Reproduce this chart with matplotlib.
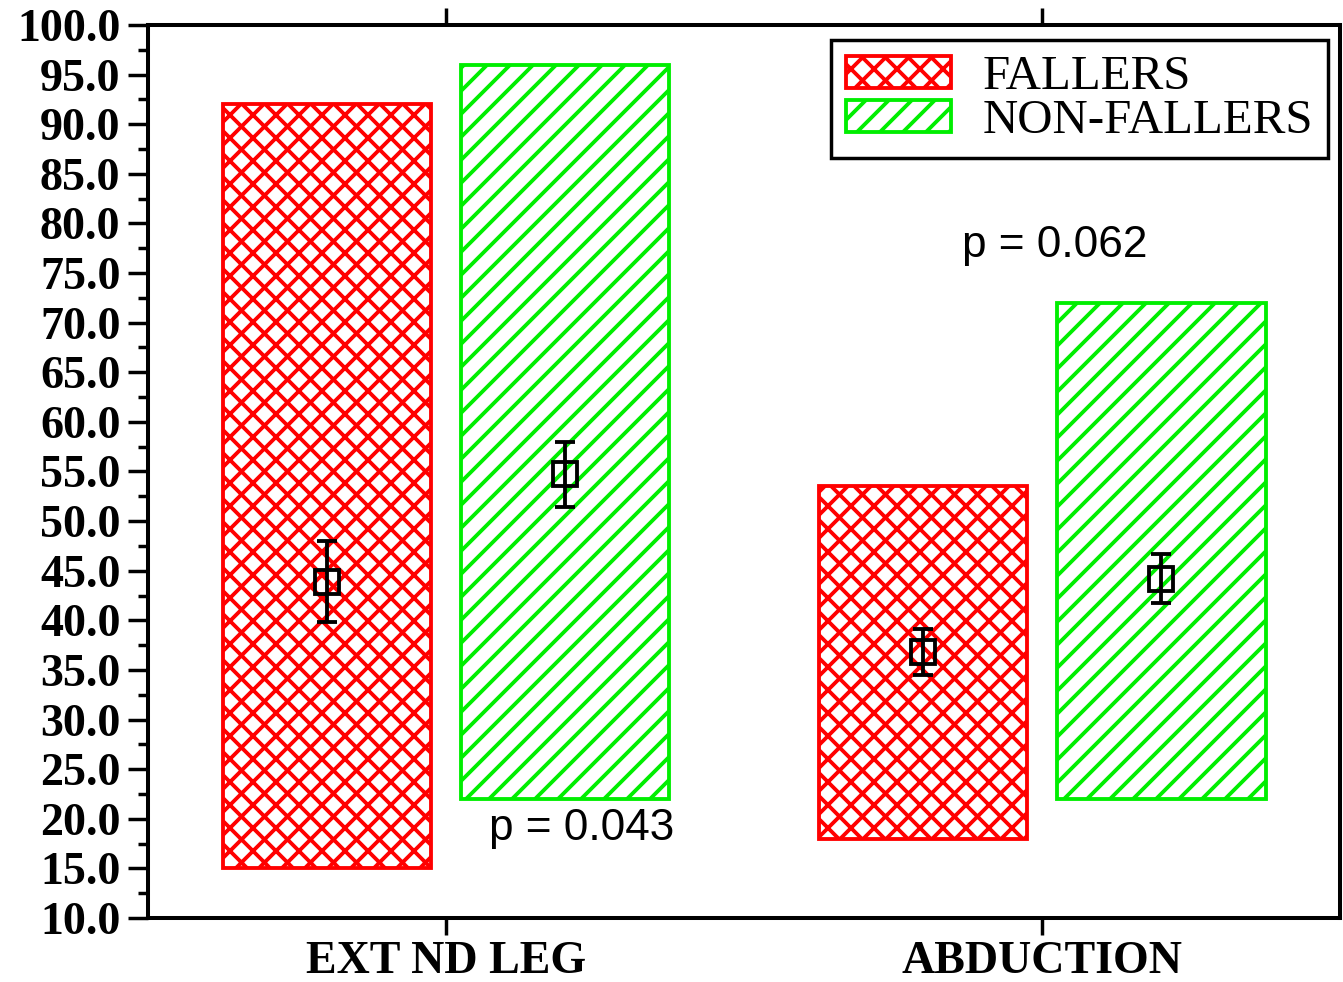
import numpy as np
import matplotlib
matplotlib.use("Agg")
import matplotlib.pyplot as plt
from matplotlib.ticker import MultipleLocator, FormatStrFormatter

# Range (min-max) of each group, plus mean and error shown as marker
categories = ["EXT ND LEG", "ABDUCTION"]
fallers_min = [15.0, 18.0]
fallers_max = [92.0, 53.5]
fallers_mean = [43.9, 36.8]
fallers_err = [4.1, 2.3]
nonfallers_min = [22.0, 22.0]
nonfallers_max = [96.0, 72.0]
nonfallers_mean = [54.7, 44.2]
nonfallers_err = [3.3, 2.5]
p_values = ["p = 0.043", "p = 0.062"]

DPI = 138
plt.rcParams["hatch.linewidth"] = 2.0

fig = plt.figure(figsize=(1343 / DPI, 982 / DPI), dpi=DPI)
ax = fig.add_axes([148 / 1343, 1 - 918 / 982, 1192 / 1343, 893 / 982])

x = np.arange(1, len(categories) + 1)
width = 0.35
offset = 0.2

fallers_h = np.array(fallers_max) - np.array(fallers_min)
nonfallers_h = np.array(nonfallers_max) - np.array(nonfallers_min)

ax.bar(x - offset, fallers_h, width, bottom=fallers_min, facecolor="white",
       edgecolor="#ff0000", hatch="xx", linewidth=2.0, label="FALLERS", zorder=2)
ax.bar(x + offset, nonfallers_h, width, bottom=nonfallers_min, facecolor="white",
       edgecolor="#00ee00", hatch="//", linewidth=2.0, label="NON-FALLERS", zorder=2)

for xs, m, e in [(x - offset, fallers_mean, fallers_err),
                 (x + offset, nonfallers_mean, nonfallers_err)]:
    ax.errorbar(xs, m, yerr=e, fmt="s", color="black", markerfacecolor="none",
                markersize=13, markeredgewidth=2.0, elinewidth=2.0,
                capsize=5.4, capthick=2.0, zorder=3)

# p-value annotations
ax.text(1.228, 19.0, p_values[0], ha="center", va="center",
        fontsize=23, family="Liberation Sans")
ax.text(2.022, 77.8, p_values[1], ha="center", va="center",
        fontsize=23, family="Liberation Sans")

ax.set_xlim(0.5, 2.5)
ax.set_ylim(10, 100)
ax.yaxis.set_major_locator(MultipleLocator(5))
ax.yaxis.set_minor_locator(MultipleLocator(2.5))
ax.yaxis.set_major_formatter(FormatStrFormatter("%.1f"))
ax.set_xticks(x)
ax.set_xticklabels(categories)

for s in ax.spines.values():
    s.set_linewidth(2.1)

ax.tick_params(axis="y", which="major", direction="out", length=10.4, width=1.8,
               pad=4, left=True, right=False)
ax.tick_params(axis="y", which="minor", direction="out", length=5.2, width=1.8,
               left=True, right=False)
ax.tick_params(axis="x", which="major", direction="out", length=9, width=1.8,
               pad=3, top=True, bottom=True)

for lbl in ax.get_yticklabels():
    lbl.set_family("Liberation Serif")
    lbl.set_fontweight("bold")
    lbl.set_fontsize(24)
for lbl in ax.get_xticklabels():
    lbl.set_family("Liberation Serif")
    lbl.set_fontweight("bold")
    lbl.set_fontsize(24)

leg = ax.legend(loc="upper right", bbox_to_anchor=(0.99, 0.983), borderaxespad=0,
                prop={"family": "Liberation Serif", "size": 25.5},
                handlelength=2.15, handleheight=0.64, handletextpad=0.65,
                labelspacing=0.0, borderpad=0.3, fancybox=False, framealpha=1)
leg.get_frame().set_edgecolor("black")
leg.get_frame().set_linewidth(1.8)

fig.savefig("out.png", dpi=DPI)
